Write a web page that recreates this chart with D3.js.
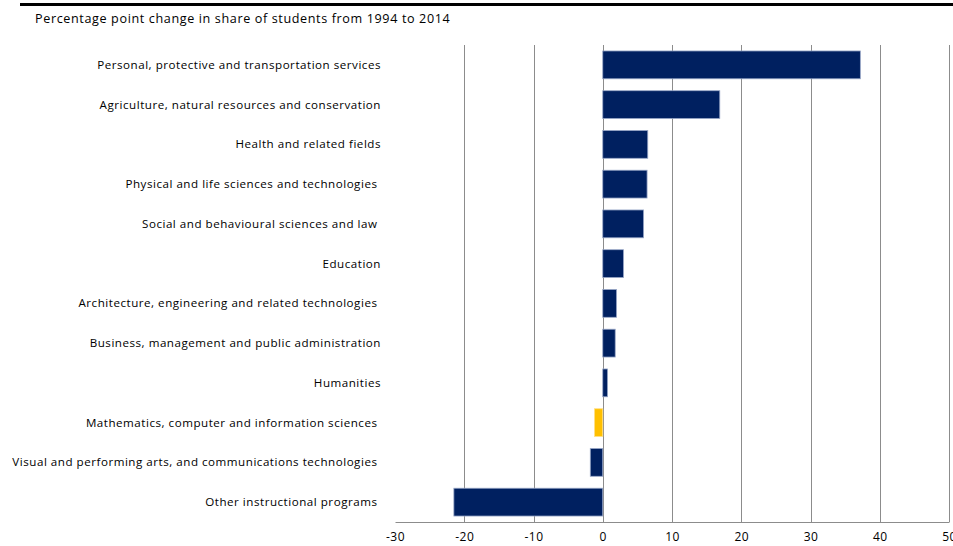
<!DOCTYPE html>
<html>
<head>
<meta charset="utf-8">
<script src="https://cdn.jsdelivr.net/npm/d3@7"></script>
<style>
  html, body { margin: 0; padding: 0; background: #fff; }
  svg { display: block; }
  text { font-family: "Open Sans", "Liberation Sans", sans-serif; fill: #000; }
</style>
</head>
<body>
<svg id="chart" width="953" height="546"></svg>
<script>
// Fields of study, top to bottom
const categories = [
  "Personal, protective and transportation services",
  "Agriculture, natural resources and conservation",
  "Health and related fields",
  "Physical and life sciences and technologies ",
  "Social and behavioural sciences and law ",
  "Education",
  "Architecture, engineering and related technologies ",
  "Business, management and public administration",
  "Humanities",
  "Mathematics, computer and information sciences ",
  "Visual and performing arts, and communications technologies ",
  "Other instructional programs "
];
// Percentage point change in share of students, 1994 to 2014
const changes = [37.2, 16.9, 6.5, 6.4, 5.9, 3.0, 2.0, 1.8, 0.7, -1.2, -1.8, -21.5];
// Highlighted field
const highlighted = ["Mathematics, computer and information sciences "];
const xTicks = [-30, -20, -10, 0, 10, 20, 30, 40, 50];
const titleText = "Percentage point change in share of students from 1994 to 2014";

const svg = d3.select("#chart");
const plot = { left: 395, right: 949, top: 45, bottom: 522 };

const x = d3.scaleLinear().domain([-30, 50]).range([plot.left, plot.right]);
const y = d3.scaleBand().domain(categories).range([plot.top, plot.bottom]).paddingInner(0.3).paddingOuter(0.15);

// rule across the top
svg.append("line")
  .attr("x1", 20).attr("x2", 953).attr("y1", 4.5).attr("y2", 4.5)
  .attr("stroke", "#000").attr("stroke-width", 3);

svg.append("text")
  .attr("x", 35).attr("y", 23)
  .attr("font-size", 12.6)
  .attr("letter-spacing", 0.62)
  .text(titleText);

// vertical gridlines
svg.append("g")
  .selectAll("line")
  .data(xTicks.filter(d => d !== -30))
  .join("line")
  .attr("x1", d => Math.round(x(d)) + 0.5).attr("x2", d => Math.round(x(d)) + 0.5)
  .attr("y1", plot.top).attr("y2", plot.bottom)
  .attr("stroke", "#8c8c8c").attr("stroke-width", 1);

// bars
svg.append("g")
  .selectAll("rect")
  .data(categories.map((c, i) => ({ c, v: changes[i] })))
  .join("rect")
  .attr("x", d => x(Math.min(0, d.v)))
  .attr("width", d => Math.abs(x(d.v) - x(0)))
  .attr("y", d => y(d.c))
  .attr("height", y.bandwidth())
  .attr("fill", d => highlighted.includes(d.c) ? "#ffc000" : "#002060")
  .attr("stroke", d => highlighted.includes(d.c) ? "#ffe08a" : "#9aa8c8")
  .attr("stroke-width", 0.8);

// bottom axis
const xAxis = svg.append("g")
  .attr("transform", `translate(0,${plot.bottom})`)
  .call(d3.axisBottom(x).tickValues(xTicks).tickSize(0).tickPadding(10).tickFormat(d => String(d)));
xAxis.select(".domain").attr("stroke", "#8c8c8c");
xAxis.selectAll("text").attr("font-size", 12).attr("font-family", "'Open Sans', sans-serif").attr("fill", "#000").attr("letter-spacing", 0.5);

// category labels
svg.append("g")
  .selectAll("text")
  .data(categories)
  .join("text")
  .attr("x", 381)
  .attr("y", d => y(d) + y.bandwidth() / 2)
  .attr("dy", "0.35em")
  .attr("text-anchor", "end")
  .attr("font-size", 11.6)
  .attr("letter-spacing", 0.52)
  .style("white-space", "pre")
  .text(d => d);
</script>
</body>
</html>
